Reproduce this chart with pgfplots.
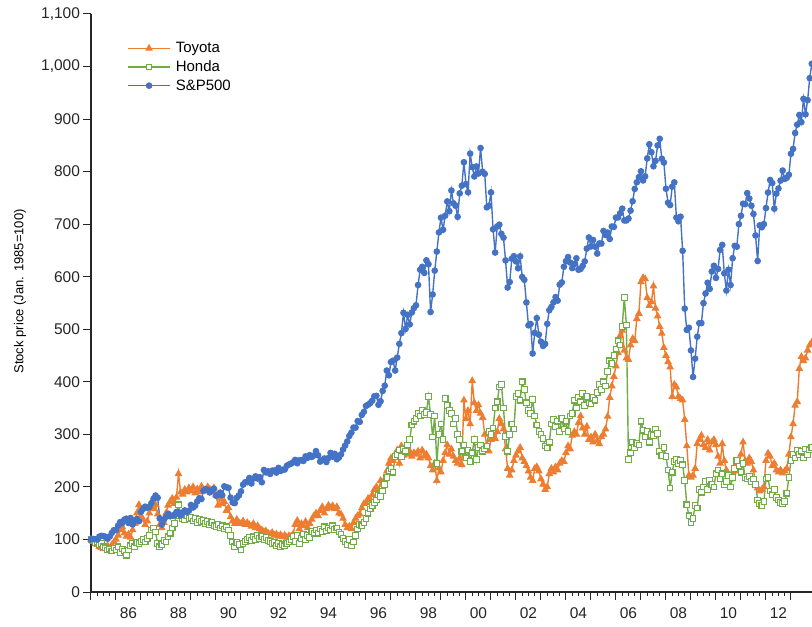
\documentclass[border=0pt]{standalone}
\usepackage{fontspec}
\setmainfont{Liberation Sans}
\usepackage{pgfplots}
\usepackage{pgfplotstable}
\pgfplotsset{compat=1.18}

\definecolor{toyota}{RGB}{237,125,49}
\definecolor{honda}{RGB}{112,173,71}
\definecolor{spx}{RGB}{68,114,196}
\definecolor{axisgray}{RGB}{38,38,38}

% Monthly closes, indexed to Jan. 1985 = 100; m = months since Jan. 1985
\pgfplotstableread[row sep=\\]{
m sp ty hd \\
0 100.0 100 100 \\ 1 100.9 96 97 \\ 2 100.6 93 94 \\ 3 100.1 90 95 \\ 4 105.5 86 90 \\ 5 106.8 84 92 \\
6 106.3 82 86 \\ 7 105.0 85 84 \\ 8 101.4 88 80 \\ 9 105.7 83 82 \\ 10 112.5 90 78 \\ 11 117.6 95 84 \\
12 117.9 100 80 \\ 13 126.3 108 86 \\ 14 133.0 118 75 \\ 15 131.1 124 82 \\ 16 137.7 112 78 \\ 17 139.6 106 70 \\
18 131.4 110 80 \\ 19 140.8 104 88 \\ 20 128.8 118 92 \\ 21 135.8 130 86 \\ 22 138.7 150 94 \\ 23 134.8 166 92 \\
24 152.6 145 96 \\ 25 158.2 138 100 \\ 26 162.4 128 95 \\ 27 160.5 135 102 \\ 28 161.5 150 108 \\ 29 169.2 162 118 \\
30 177.4 158 122 \\ 31 183.6 166 114 \\ 32 179.2 148 92 \\ 33 140.2 128 86 \\ 34 128.2 122 90 \\ 35 137.6 132 98 \\
36 143.1 150 95 \\ 37 149.1 165 105 \\ 38 144.1 172 112 \\ 39 145.5 178 122 \\ 40 145.9 168 130 \\ 41 152.3 180 145 \\
42 151.4 225 166 \\ 43 145.6 190 150 \\ 44 151.4 186 140 \\ 45 155.3 195 138 \\ 46 152.4 190 146 \\ 47 154.6 198 140 \\
48 165.6 192 142 \\ 49 160.8 200 135 \\ 50 164.2 188 140 \\ 51 172.4 196 132 \\ 52 178.4 190 138 \\ 53 177.0 201 134 \\
54 192.7 195 136 \\ 55 195.7 192 130 \\ 56 194.4 200 134 \\ 57 189.5 196 128 \\ 58 192.6 190 132 \\ 59 196.7 198 126 \\
60 183.2 185 125 \\ 61 184.8 165 128 \\ 62 189.2 178 122 \\ 63 184.2 168 126 \\ 64 201.1 172 120 \\ 65 199.3 155 124 \\
66 198.3 160 118 \\ 67 179.6 143 108 \\ 68 170.4 135 95 \\ 69 169.2 130 86 \\ 70 179.4 138 94 \\ 71 183.8 132 90 \\
72 191.5 130 80 \\ 73 204.3 135 92 \\ 74 208.9 128 96 \\ 75 209.0 132 100 \\ 76 217.0 128 104 \\ 77 206.6 125 98 \\
78 215.9 130 105 \\ 79 220.1 122 100 \\ 80 215.9 126 108 \\ 81 218.5 120 102 \\ 82 208.9 118 106 \\ 83 232.2 115 100 \\
84 227.6 116 104 \\ 85 229.7 112 98 \\ 86 224.7 110 96 \\ 87 231.0 113 92 \\ 88 231.2 108 94 \\ 89 227.2 110 88 \\
90 236.2 106 92 \\ 91 230.5 109 86 \\ 92 232.6 105 90 \\ 93 233.1 108 88 \\ 94 240.1 104 92 \\ 95 242.6 107 95 \\
96 244.3 106 100 \\ 97 246.8 110 106 \\ 98 251.4 128 96 \\ 99 245.1 136 108 \\ 100 250.6 120 92 \\ 101 250.8 130 102 \\
102 249.5 126 110 \\ 103 258.1 134 100 \\ 104 255.5 122 108 \\ 105 260.4 130 104 \\ 106 257.1 138 115 \\ 107 259.7 145 112 \\
108 268.1 150 118 \\ 109 260.1 145 112 \\ 110 248.2 155 120 \\ 111 251.0 162 115 \\ 112 254.1 150 124 \\ 113 247.3 158 116 \\
114 255.1 165 122 \\ 115 264.7 160 118 \\ 116 257.6 164 126 \\ 117 263.0 158 119 \\ 118 252.6 162 122 \\ 119 255.7 150 114 \\
120 261.9 148 110 \\ 121 271.3 140 102 \\ 122 278.7 128 96 \\ 123 286.5 122 90 \\ 124 296.9 125 100 \\ 125 303.3 120 88 \\
126 312.9 132 95 \\ 127 312.8 140 108 \\ 128 325.3 145 120 \\ 129 323.7 148 128 \\ 130 337.0 160 126 \\ 131 342.9 168 132 \\
132 354.1 170 140 \\ 133 356.5 178 150 \\ 134 359.4 176 158 \\ 135 364.2 185 165 \\ 136 372.5 195 170 \\ 137 373.3 200 175 \\
138 356.3 190 185 \\ 139 363.0 212 182 \\ 140 382.6 205 192 \\ 141 392.6 215 205 \\ 142 421.4 230 218 \\ 143 412.4 245 230 \\
144 437.7 255 235 \\ 145 440.2 250 228 \\ 146 421.5 262 258 \\ 147 446.1 270 262 \\ 148 472.2 245 270 \\ 149 492.8 278 258 \\
150 531.3 260 272 \\ 151 500.7 272 268 \\ 152 527.3 262 280 \\ 153 509.2 268 290 \\ 154 531.9 258 318 \\ 155 540.2 265 325 \\
156 545.7 262 330 \\ 157 584.2 268 340 \\ 158 613.3 255 335 \\ 159 618.9 270 345 \\ 160 607.3 258 338 \\ 161 631.2 262 342 \\
162 623.9 255 372 \\ 163 532.9 240 338 \\ 164 566.2 232 295 \\ 165 611.6 245 335 \\ 166 647.8 212 245 \\ 167 684.3 236 300 \\
168 712.4 228 320 \\ 169 689.4 250 290 \\ 170 716.1 265 368 \\ 171 743.3 280 355 \\ 172 724.7 262 345 \\ 173 764.2 272 340 \\
174 739.7 258 320 \\ 175 735.1 250 330 \\ 176 714.1 245 300 \\ 177 758.7 255 290 \\ 178 773.2 242 268 \\ 179 817.9 365 280 \\
180 776.3 330 255 \\ 181 760.7 345 270 \\ 182 834.3 320 248 \\ 183 808.6 402 265 \\ 184 790.8 360 290 \\ 185 809.8 345 252 \\
186 796.5 356 275 \\ 187 844.9 340 280 \\ 188 799.7 332 268 \\ 189 795.7 300 272 \\ 190 732.0 280 278 \\ 191 735.0 268 305 \\
192 760.5 290 300 \\ 193 690.3 300 312 \\ 194 646.0 292 350 \\ 195 695.6 305 362 \\ 196 699.1 330 390 \\ 197 681.6 320 395 \\
198 674.3 310 350 \\ 199 631.1 272 296 \\ 200 579.5 235 268 \\ 201 590.0 222 300 \\ 202 634.3 232 320 \\ 203 639.1 250 310 \\
204 629.2 260 372 \\ 205 616.1 268 378 \\ 206 638.8 275 365 \\ 207 599.5 255 400 \\ 208 594.1 248 385 \\ 209 551.0 240 360 \\
210 507.5 230 345 \\ 211 510.0 218 340 \\ 212 453.9 212 366 \\ 213 493.1 235 335 \\ 214 521.2 238 318 \\ 215 489.8 230 305 \\
216 476.4 215 300 \\ 217 468.3 205 292 \\ 218 472.2 195 278 \\ 219 510.4 200 274 \\ 220 536.4 225 285 \\ 221 542.5 235 320 \\
222 551.3 228 328 \\ 223 561.2 238 315 \\ 224 554.5 232 325 \\ 225 584.9 245 305 \\ 226 589.1 250 330 \\ 227 619.0 248 310 \\
228 629.7 265 325 \\ 229 637.4 278 305 \\ 230 627.0 272 335 \\ 231 616.4 298 340 \\ 232 623.9 305 365 \\ 233 635.1 300 350 \\
234 613.3 322 370 \\ 235 614.7 335 362 \\ 236 620.5 312 378 \\ 237 629.2 300 355 \\ 238 653.5 315 372 \\ 239 674.7 290 360 \\
240 657.6 295 358 \\ 241 670.0 285 370 \\ 242 657.2 300 365 \\ 243 644.0 288 380 \\ 244 663.3 282 395 \\ 245 663.2 295 385 \\
246 687.1 300 400 \\ 247 679.4 310 392 \\ 248 684.1 334 420 \\ 249 671.9 370 440 \\ 250 695.6 392 435 \\ 251 694.9 410 450 \\
252 712.6 430 462 \\ 253 712.9 455 478 \\ 254 720.9 488 470 \\ 255 729.6 498 505 \\ 256 707.1 460 560 \\ 257 707.1 445 508 \\
258 710.7 442 252 \\ 259 725.8 470 265 \\ 260 743.7 482 285 \\ 261 767.1 478 275 \\ 262 779.7 520 283 \\ 263 789.6 530 280 \\
264 800.7 590 325 \\ 265 783.2 598 308 \\ 266 791.0 596 295 \\ 267 825.2 560 305 \\ 268 852.1 545 285 \\ 269 836.9 552 300 \\
270 810.2 582 298 \\ 271 820.6 540 310 \\ 272 849.9 525 302 \\ 273 862.5 505 268 \\ 274 824.5 492 260 \\ 275 817.4 465 275 \\
276 767.4 450 258 \\ 277 740.8 438 232 \\ 278 736.3 428 198 \\ 279 771.4 372 228 \\ 280 779.6 395 248 \\ 281 712.6 390 252 \\
282 705.5 372 245 \\ 283 714.2 368 250 \\ 284 649.3 365 242 \\ 285 539.3 328 212 \\ 286 498.9 278 166 \\ 287 502.8 222 145 \\
288 459.8 218 132 \\ 289 409.2 222 140 \\ 290 444.2 235 165 \\ 291 485.9 282 160 \\ 292 511.7 290 195 \\ 293 511.8 298 190 \\
294 549.7 280 200 \\ 295 568.2 275 210 \\ 296 588.5 290 195 \\ 297 576.9 270 212 \\ 298 609.9 285 205 \\ 299 620.8 290 200 \\
300 597.8 280 225 \\ 301 614.9 258 232 \\ 302 651.0 245 215 \\ 303 660.6 282 225 \\ 304 606.5 250 205 \\ 305 573.8 232 210 \\
306 613.3 222 222 \\ 307 584.2 215 200 \\ 308 635.3 228 218 \\ 309 658.7 240 235 \\ 310 657.2 230 250 \\ 311 700.1 245 240 \\
312 716.0 262 228 \\ 313 738.9 285 245 \\ 314 738.1 250 218 \\ 315 759.1 245 215 \\ 316 748.9 255 220 \\ 317 735.2 248 210 \\
318 719.4 232 215 \\ 319 678.6 205 205 \\ 320 629.9 198 175 \\ 321 697.7 192 168 \\ 322 694.2 195 165 \\ 323 700.1 200 172 \\
324 730.6 250 215 \\ 325 760.3 264 218 \\ 326 784.1 258 192 \\ 327 778.2 240 185 \\ 328 729.5 245 195 \\ 329 758.3 232 180 \\
330 767.9 228 175 \\ 331 783.0 232 170 \\ 332 802.0 226 168 \\ 333 786.2 230 172 \\ 334 788.4 235 188 \\ 335 794.0 262 218 \\
336 834.0 295 250 \\ 337 843.2 320 262 \\ 338 873.5 355 255 \\ 339 889.4 362 270 \\ 340 907.8 425 262 \\ 341 894.2 448 268 \\
342 938.4 440 255 \\ 343 909.1 445 272 \\ 344 936.1 460 262 \\ 345 977.9 470 270 \\ 346 1005.3 475 275 \\
}\prices

\begin{document}
\begin{tikzpicture}
\begin{axis}[
  scale only axis,
  width=721pt, height=578pt,
  xmin=0, xmax=346.1,
  ymin=0, ymax=1100,
  clip=false,
  axis lines*=left,
  axis line style={line width=1.1pt, axisgray},
  tick style={line width=1pt, axisgray},
  tick align=outside,
  major tick length=7.5pt,
  minor tick length=4pt,
  xtick={0,12,...,336},
  minor x tick num=3,
  x tick label as interval,
  xticklabels={{},86,{},88,{},90,{},92,{},94,{},96,{},98,{},00,{},02,{},04,{},06,{},08,{},10,{},12},
  ytick={0,100,...,1100},
  /pgf/number format/assume math mode=true,
  /pgf/number format/1000 sep={,},
  tick label style={font=\fontsize{15.5}{18}\selectfont, text=axisgray},
  x tick label style={yshift=-5pt},
  ylabel={Stock price (Jan. 1985=100)},
  ylabel style={at={([xshift=-71pt]axis description cs:0,0.52)}, anchor=center,
    font=\fontsize{13}{15}\selectfont, text=black},
  legend style={at={(0.046,0.958)}, anchor=north west, draw=none, fill=none,
    font=\fontsize{15}{18}\selectfont, row sep=2.5pt,
    /tikz/every odd column/.append style={column sep=3pt}},
  legend cell align=left,
  legend image code/.code={
    \draw[line width=1.4pt, mark repeat=2, mark phase=2]
      plot coordinates {(0pt,0pt) (21pt,0pt) (42pt,0pt)};
  },
]
\addplot[toyota, line width=1.4pt, mark=triangle*, mark size=3.5pt,
  mark options={solid, fill=toyota, line width=1pt}] table[x=m, y=ty]{\prices};
\addlegendentry{Toyota}
\addplot[honda, line width=1.4pt, mark=square*, mark size=2.8pt,
  mark options={solid, fill=white, draw=honda, line width=1.1pt}] table[x=m, y=hd]{\prices};
\addlegendentry{Honda}
\addplot[spx, line width=1.4pt, mark=*, mark size=2.6pt,
  mark options={solid, fill=spx}] table[x=m, y=sp]{\prices};
\addlegendentry{S\&P500}
\end{axis}
\pgfresetboundingbox
\path ([xshift=-91pt, yshift=-34pt]current axis.south west)
  rectangle ([yshift=14pt]current axis.north east);
\end{tikzpicture}
\end{document}
